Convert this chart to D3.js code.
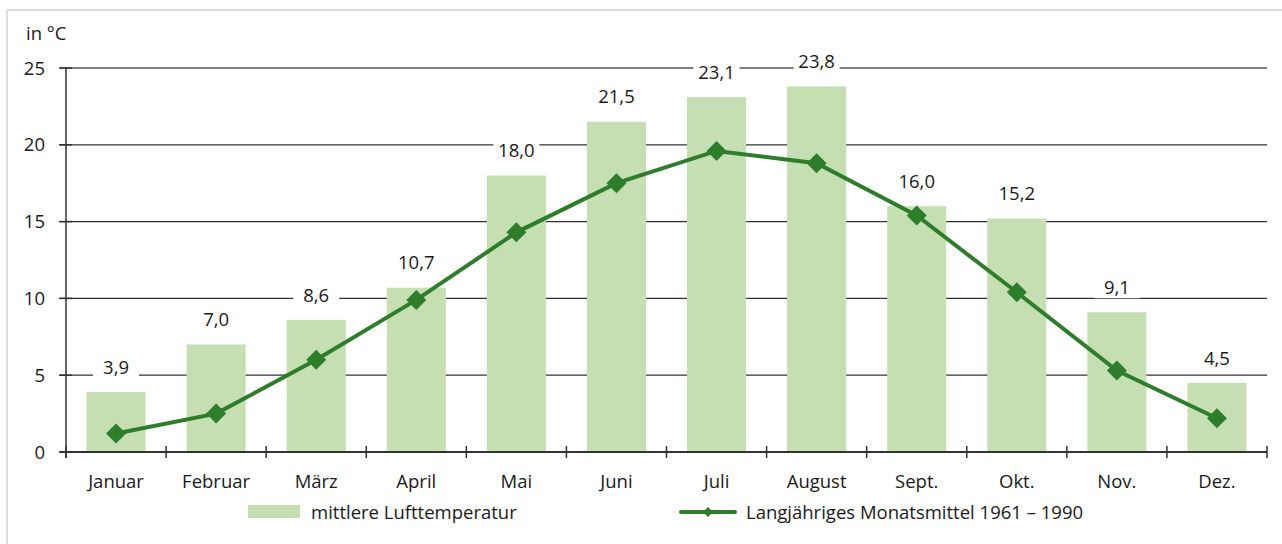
<!DOCTYPE html>
<html>
<head>
<meta charset="utf-8">
<script src="https://cdn.jsdelivr.net/npm/d3@7"></script>
<style>
  html, body { margin: 0; padding: 0; background: #fff; }
  svg { display: block; font-family: "Open Sans", "Noto Sans", sans-serif; }
</style>
</head>
<body>
<svg></svg>
<script>
const months = ["Januar", "Februar", "März", "April", "Mai", "Juni", "Juli", "August", "Sept.", "Okt.", "Nov.", "Dez."];
const airTemp = [3.9, 7.0, 8.6, 10.7, 18.0, 21.5, 23.1, 23.8, 16.0, 15.2, 9.1, 4.5];
const longTerm = [1.2, 2.5, 6.0, 9.9, 14.3, 17.5, 19.6, 18.8, 15.4, 10.4, 5.3, 2.2];
const yTicks = [0, 5, 10, 15, 20, 25];
const barName = "mittlere Lufttemperatur";
const lineName = "Langjähriges Monatsmittel 1961 – 1990";

const width = 1282, height = 544;
const svg = d3.select("svg").attr("width", width).attr("height", height);

const barColor = "#c5dfb2";
const lineColor = "#2e7d2b";
const textColor = "#1a1a1a";
const fs = 18.5;
const fmt = v => v.toFixed(1).replace(".", ",");

// frame
svg.append("path")
    .attr("d", `M7,${height} V10 H${width}`)
    .attr("fill", "none")
    .attr("stroke", "#dedede")
    .attr("stroke-width", 2);

const x = d3.scaleBand().domain(months).range([66, 1267]).paddingInner(0.41).paddingOuter(0.205);
const y = d3.scaleLinear().domain([0, 25]).range([452, 68]);
const cx = i => x(months[i]) + x.bandwidth() / 2;

// gridlines
svg.append("g").selectAll("line")
    .data(yTicks.filter(d => d > 0))
    .join("line")
    .attr("x1", 60).attr("x2", 1267)
    .attr("y1", d => y(d)).attr("y2", d => y(d))
    .attr("stroke", d => d === 25 ? "#808080" : "#333")
    .attr("stroke-width", d => d === 25 ? 2 : 1.2);

// y labels
svg.append("g").selectAll("text")
    .data(yTicks)
    .join("text")
    .attr("x", 45).attr("y", d => y(d))
    .attr("dy", "0.36em")
    .attr("text-anchor", "end")
    .attr("font-size", fs)
    .attr("fill", textColor)
    .text(d => d);

svg.append("text")
    .attr("x", 26).attr("y", 40)
    .attr("font-size", fs)
    .attr("fill", textColor)
    .text("in °C");

// bars
svg.append("g").selectAll("rect")
    .data(airTemp)
    .join("rect")
    .attr("x", (d, i) => x(months[i]))
    .attr("y", d => y(d))
    .attr("width", x.bandwidth())
    .attr("height", d => y(0) - y(d))
    .attr("fill", barColor);

// value labels with white box
const labels = svg.append("g").selectAll("g")
    .data(airTemp)
    .join("g")
    .attr("transform", (d, i) => `translate(${cx(i)},${y(d) - 25})`);
labels.append("rect")
    .attr("x", -23).attr("y", -11)
    .attr("width", 46).attr("height", 22)
    .attr("fill", "#fff");
labels.append("text")
    .attr("text-anchor", "middle")
    .attr("dy", "0.36em")
    .attr("font-size", fs)
    .attr("fill", textColor)
    .text(d => fmt(d));

// axes
svg.append("line")
    .attr("x1", 66).attr("x2", 66).attr("y1", y(25)).attr("y2", y(0) + 6)
    .attr("stroke", "#333").attr("stroke-width", 1.5);
svg.append("line")
    .attr("x1", 60).attr("x2", 1267).attr("y1", y(0)).attr("y2", y(0))
    .attr("stroke", "#333").attr("stroke-width", 2);
svg.append("g").selectAll("line")
    .data(yTicks)
    .join("line")
    .attr("x1", 59).attr("x2", 72)
    .attr("y1", d => y(d)).attr("y2", d => y(d))
    .attr("stroke", "#333").attr("stroke-width", 1.5);
const bounds = months.map(m => x(m) - x.step() * 0.205).concat([1267]);
svg.append("g").selectAll("line")
    .data(bounds)
    .join("line")
    .attr("x1", d => d).attr("x2", d => d)
    .attr("y1", y(0) - 6).attr("y2", y(0) + 6)
    .attr("stroke", "#333").attr("stroke-width", 1.5);

svg.append("g").selectAll("text")
    .data(months)
    .join("text")
    .attr("x", (d, i) => cx(i))
    .attr("y", 481)
    .attr("dy", "0.36em")
    .attr("text-anchor", "middle")
    .attr("font-size", fs)
    .attr("fill", textColor)
    .text(d => d);

// line
const line = d3.line()
    .x((d, i) => cx(i))
    .y(d => y(d));
svg.append("path")
    .datum(longTerm)
    .attr("d", line)
    .attr("fill", "none")
    .attr("stroke", lineColor)
    .attr("stroke-width", 4);

const diamond = d3.symbol().type(d3.symbolSquare).size(200);
svg.append("g").selectAll("path")
    .data(longTerm)
    .join("path")
    .attr("d", diamond)
    .attr("transform", (d, i) => `translate(${cx(i)},${y(d)}) rotate(45)`)
    .attr("fill", lineColor);

// legend
svg.append("rect")
    .attr("x", 248).attr("y", 505)
    .attr("width", 52).attr("height", 13)
    .attr("fill", barColor);
svg.append("text")
    .attr("x", 311).attr("y", 512)
    .attr("dy", "0.36em")
    .attr("font-size", fs)
    .attr("fill", textColor)
    .text(barName);

svg.append("line")
    .attr("x1", 681).attr("x2", 735).attr("y1", 512).attr("y2", 512)
    .attr("stroke", lineColor).attr("stroke-width", 4).attr("stroke-linecap", "round");
svg.append("path")
    .attr("d", d3.symbol().type(d3.symbolSquare).size(50))
    .attr("transform", "translate(708,512) rotate(45)")
    .attr("fill", lineColor);
svg.append("text")
    .attr("x", 746).attr("y", 512)
    .attr("dy", "0.36em")
    .attr("font-size", fs)
    .attr("fill", textColor)
    .text(lineName);
</script>
</body>
</html>
